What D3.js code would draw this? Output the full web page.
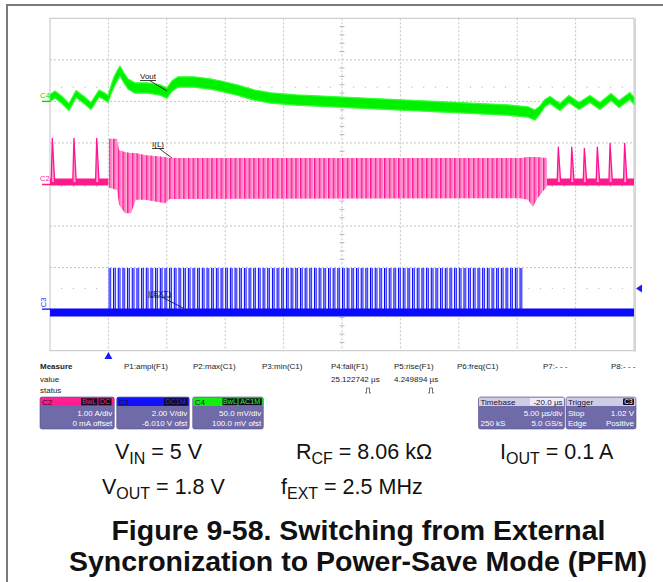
<!DOCTYPE html>
<html><head><meta charset="utf-8">
<script src="https://cdn.jsdelivr.net/npm/d3@7"></script>
<style>body{margin:0;background:#fff}svg{display:block;font-family:"Liberation Sans",Arial,sans-serif}</style>
</head><body><svg id="c" width="663" height="582"></svg>
<script>
// ---------------- DATA ----------------
// time axis: 10 div x 5 us
const timeDomain = [0, 50];
const triggerTime = 5.0;
const gridTimes = [5, 10, 15, 20, 25, 30, 35, 40, 45];
const gridDivs = [-3, -2, -1, 0, 1, 2, 3];

// C4 : Vout (mV, AC coupled, 50 mV/div) - upper / lower edge of the trace
const voutTime = [0.00,0.43,1.03,1.63,2.23,2.91,3.51,4.20,4.62,4.97,5.22,5.48,5.74,5.99,6.34,6.68,7.28,8.39,9.42,10.02,10.45,10.96,12.33,13.70,14.55,16.01,17.47,18.92,21.06,24.66,28.25,31.93,35.53,39.13,40.92,41.52,41.95,42.38,42.81,43.66,44.43,45.29,46.23,47.09,48.03,48.72,49.66,50.00];
const voutHigh = [8.3,12.5,5.9,-2.5,13.1,5.9,-1.3,13.7,10.7,7.1,18.5,29.4,36.6,42.6,34.2,27.0,22.3,22.3,19.9,16.3,24.8,29.6,29.6,27.2,24.8,19.9,13.9,10.3,7.9,5.5,3.1,0.7,-1.7,-4.1,-6.5,-10.3,-5.5,2.3,5.9,-2.5,7.1,-1.3,7.1,-1.3,9.5,1.1,10.7,4.7];
const voutLow  = [-0.1,4.1,-2.5,-11.0,4.7,-2.5,-9.7,5.3,2.3,-1.3,8.9,17.3,24.5,30.6,22.1,14.9,9.9,9.9,7.5,3.9,12.3,17.1,17.1,14.7,12.3,7.5,1.5,-2.1,-4.5,-6.9,-9.3,-11.8,-14.2,-16.6,-19.0,-22.4,-15.2,-6.1,-2.5,-11.0,-1.3,-9.7,-1.3,-9.7,1.1,-7.3,2.3,-3.7];

// C2 : I(L) (A, 1 A/div) - PFM pulses (time, peak)
const ilPulseTime = [0.20, 2.05, 4.00, 43.52, 44.67, 45.75, 46.86, 47.95, 49.20];
const ilPulsePeak = [1.11, 1.11, 1.11, 0.90, 0.90, 0.87, 0.90, 0.99, 0.99];
const ilBaseline = 0.06;
// C2 : I(L) forced-PWM envelope
const ilPwmTime = [5.05, 5.74, 5.91, 6.42, 6.93, 7.36, 8.13, 9.85, 10.27, 40.24, 40.92, 41.35, 41.70, 42.55];
const ilPwmHigh = [1.10, 1.10, 0.83, 0.78, 0.76, 0.76, 0.71, 0.66, 0.64, 0.64, 0.66, 0.66, 0.66, 0.64];
const ilPwmLow  = [-0.08,-0.13,-0.49,-0.69,-0.69,-0.37,-0.37,-0.45,-0.35,-0.33,-0.37,-0.54,-0.35,-0.04];
const ilSwitchPeriod = 0.4;

// C3 : external clock (V, 2 V/div)
const extStart = 5.0, extStop = 40.5;
const extPeriod = 0.4;      // 2.5 MHz
const extHigh = 1.98, extLow = -0.16;

// bottom captions / readouts
const measureLabels = ["P1:ampl(F1)","P2:max(C1)","P3:min(C1)","P4:fall(F1)","P5:rise(F1)","P6:freq(C1)","P7:- - -","P8:- - -"];
const measureValues = ["","","","25.122742 \u00b5s","4.249894 \u00b5s","","",""];
const measureStatus = [false,false,false,true,true,false,false,false];

// ---------------- DRAWING ----------------
const svg = d3.select("#c");
svg.append("rect").attr("width",663).attr("height",582).attr("fill","#fff");
svg.append("path").attr("d","M7,582V5H663").attr("fill","none").attr("stroke","#7a7a7a").attr("stroke-width",2);

const X0=50, X1=634, Y0=18.3, Y1=350.7;
const x = d3.scaleLinear().domain(timeDomain).range([X0,X1]);
const yDiv = d3.scaleLinear().domain([-4,4]).range([Y1,Y0]);
const yC2 = d3.scaleLinear().domain([-4,4]).range([Y1,Y0]);       // A
const yC4 = d3.scaleLinear().domain([-300,100]).range([Y1,Y0]);   // mV
const yC3 = d3.scaleLinear().domain([-2,14]).range([Y1,Y0]);      // V

const defs = svg.append("defs");
const g = svg.append("g");

// grid
g.selectAll(".gv").data(gridTimes).enter().append("line")
  .attr("x1",d=>x(d)).attr("x2",d=>x(d)).attr("y1",Y0).attr("y2",Y1)
  .attr("stroke","#b4b4b4").attr("stroke-width",0.8).attr("stroke-dasharray","2,2");
g.selectAll(".gh").data(gridDivs).enter().append("line")
  .attr("y1",d=>yDiv(d)).attr("y2",d=>yDiv(d)).attr("x1",X0).attr("x2",X1)
  .attr("stroke","#b4b4b4").attr("stroke-width",0.8).attr("stroke-dasharray","2,2");
// center ticks
const vt = d3.range(-4,4.01,0.2).filter(v=>Math.abs(v-Math.round(v))>0.01);
g.selectAll(".vt").data(vt).enter().append("line")
  .attr("x1",x(25)-2.5).attr("x2",x(25)+2.5).attr("y1",d=>yDiv(d)).attr("y2",d=>yDiv(d))
  .attr("stroke","#a8a8a8").attr("stroke-width",0.8);
const ht = d3.range(1,50,1).filter(v=>v%5!==0);
g.selectAll(".ht").data(ht).enter().append("line")
  .attr("x1",d=>x(d)).attr("x2",d=>x(d)).attr("y1",yDiv(0)-2.5).attr("y2",yDiv(0)+2.5)
  .attr("stroke","#a8a8a8").attr("stroke-width",0.8);
// dotted level rows
[yC4(17), yC3(1.0)].forEach(yy=>{
  g.selectAll(null).data(ht).enter().append("rect")
   .attr("x",d=>x(d)-0.5).attr("y",yy-0.5).attr("width",1).attr("height",1).attr("fill","#aaa");
});
g.append("rect").attr("x",X0).attr("y",Y0).attr("width",X1-X0).attr("height",Y1-Y0)
  .attr("fill","none").attr("stroke","#c4c4c4").attr("stroke-width",1);
g.append("line").attr("x1",X1+1).attr("x2",X1+1).attr("y1",Y0).attr("y2",Y1+1).attr("stroke","#d6d6d6").attr("stroke-width",2);

// ---- C4 green trace
const vout = voutTime.map((t,i)=>({t,hi:voutHigh[i],lo:voutLow[i]}));
g.append("path").datum(vout)
  .attr("d",d3.area().x(d=>x(d.t)).y0(d=>yC4(d.lo)).y1(d=>yC4(d.hi)))
  .attr("fill","#00f000").attr("stroke","#33ff33").attr("stroke-width",1.2).attr("stroke-linejoin","round");

// ---- C2 pink trace
const pw = x(ilSwitchPeriod)-x(0);
const pp = defs.append("pattern").attr("id","pinkPat").attr("patternUnits","userSpaceOnUse")
  .attr("width",pw).attr("height",400).attr("patternTransform",`translate(${x(triggerTime)},0)`);
pp.append("rect").attr("width",pw).attr("height",400).attr("fill","#ffb3dc");
pp.append("rect").attr("x",0).attr("width",1.5).attr("height",400).attr("fill","#ff1493");
pp.append("rect").attr("x",pw/2).attr("width",0.9).attr("height",400).attr("fill","#ff5ab4");
// PFM baseline band
[[0,triggerTime],[ilPwmTime[ilPwmTime.length-1],50]].forEach(seg=>{
  g.append("line").attr("x1",x(seg[0])).attr("x2",x(seg[1])).attr("y1",yC2(ilBaseline)).attr("y2",yC2(ilBaseline))
   .attr("stroke","#ff1a8c").attr("stroke-width",7);
});
// PFM pulses
const rise=0.10, fall=0.20;
ilPulseTime.forEach((t,i)=>{
  const pts=[[t-rise,ilBaseline],[t,ilPulsePeak[i]],[t+fall,ilBaseline]];
  g.append("path").attr("d",d3.line().x(d=>x(d[0])).y(d=>yC2(d[1]))(pts))
   .attr("fill","#ff9ccf").attr("stroke","#ff1493").attr("stroke-width",1.3).attr("stroke-linejoin","round");
});
// forced PWM region
const ilPwm = ilPwmTime.map((t,i)=>({t,hi:ilPwmHigh[i],lo:ilPwmLow[i]}));
g.append("path").datum(ilPwm)
  .attr("d",d3.area().x(d=>x(d.t)).y0(d=>yC2(d.lo)).y1(d=>yC2(d.hi)))
  .attr("fill","url(#pinkPat)");

// ---- C3 blue trace
const bw = x(extPeriod)-x(0);
const bp = defs.append("pattern").attr("id","bluePat").attr("patternUnits","userSpaceOnUse")
  .attr("width",bw).attr("height",400).attr("patternTransform",`translate(${x(extStart)},0)`);
bp.append("rect").attr("width",bw).attr("height",400).attr("fill","#f4f4ff");
bp.append("rect").attr("width",bw/2).attr("height",400).attr("fill","#c4c4ff");
bp.append("rect").attr("x",0).attr("width",1.1).attr("height",400).attr("fill","#0000ff");
bp.append("rect").attr("x",bw/2-0.5).attr("width",0.9).attr("height",400).attr("fill","#2020ff");
g.append("rect").attr("x",x(extStart)).attr("width",x(extStop)-x(extStart))
  .attr("y",yC3(extHigh)).attr("height",yC3(extLow)-yC3(extHigh)).attr("fill","url(#bluePat)");
g.append("line").attr("x1",x(0)).attr("x2",x(50)).attr("y1",yC3(extLow)).attr("y2",yC3(extLow))
  .attr("stroke","#0a0aff").attr("stroke-width",8);

// channel markers
const chLab = [{t:"C4",c:"#00e000",v:yC4(0)},{t:"C2",c:"#ff1a8c",v:yC2(0)},{t:"C3",c:"#2a2aff",v:yC3(0)}];
chLab.forEach((d,i)=>{
  g.append("line").attr("x1",42).attr("x2",50).attr("y1",d.v).attr("y2",d.v).attr("stroke",d.c).attr("stroke-width",1.5);
  if(i<2) g.append("text").attr("x",40).attr("y",d.v-3.5).attr("font-size",7.5).attr("fill",d.c).text(d.t);
  else g.append("text").attr("transform",`translate(46,${d.v-2}) rotate(-90)`).attr("font-size",7.5).attr("fill",d.c).text(d.t);
});
// trigger markers
g.append("path").attr("d",`M${x(triggerTime)},352 l-4,7 h8 z`).attr("fill","#1a1aff");
g.append("path").attr("d",`M${X1+2},${yC3(1.0)} l6,-4 v8 z`).attr("fill","#1a1aff");

// annotations
function note(txt,tx,ty,ax,ay){
  const t=g.append("text").attr("x",tx).attr("y",ty).attr("font-size",8).attr("fill","#111").text(txt);
  const w=t.node().getComputedTextLength();
  g.append("line").attr("x1",tx).attr("x2",tx+w).attr("y1",ty+1.5).attr("y2",ty+1.5).attr("stroke","#111").attr("stroke-width",0.8);
  g.append("line").attr("x1",tx+w*0.6).attr("y1",ty+1.5).attr("x2",ax).attr("y2",ay).attr("stroke","#111").attr("stroke-width",0.8);
}
note("Vout",140,79,167,91);
note("I(L)",152,147,172,158);
note("I(EXT)",148,295.5,183,308);

// ---- measurement table
const mx=[124,193,262,331,394,457,543,611];
const mt = svg.append("g").attr("font-size",8).attr("fill","#222");
mt.append("text").attr("x",40).attr("y",369).attr("font-weight","bold").text("Measure");
mt.append("text").attr("x",40).attr("y",381.5).text("value");
mt.append("text").attr("x",40).attr("y",393).text("status");
measureLabels.forEach((l,i)=>{
  mt.append("text").attr("x",mx[i]).attr("y",369).text(l);
  if(measureValues[i]) mt.append("text").attr("x",mx[i]).attr("y",381.5).text(measureValues[i]);
  if(measureStatus[i]){
    const sx=mx[i]+34;
    mt.append("path").attr("d",`M${sx},393 h1.5 v-5 h3 v5 h1.5`).attr("fill","none").attr("stroke","#333").attr("stroke-width",0.7);
  }
});

// ---- channel boxes
const boxes = [
  {x0:40,x1:114.3,col:"#ff1f8f",name:"C2",badges:[["BwL",81,97.5],["DC",98.5,111.5]],l1:"1.00 A/div",l2:"0 mA offset",bc:"#ff1f8f"},
  {x0:116.7,x1:189.3,col:"#1010ff",name:"C3",badges:[["DC1M",164,187.5]],l1:"2.00 V/div",l2:"-6.010 V ofst",bc:"#2a2aff"},
  {x0:192.7,x1:263.3,col:"#10f010",name:"C4",badges:[["BwL",222.5,237.5],["AC1M",238.5,261.8]],l1:"50.0 mV/div",l2:"100.0 mV ofst",bc:"#22ff22"}
];
const bx = svg.append("g").attr("font-size",8);
function body(x0,x1){
  bx.append("rect").attr("x",x0).attr("y",397).attr("width",x1-x0).attr("height",32).attr("rx",2)
    .attr("fill","#6f6aa8").attr("stroke","#55508c").attr("stroke-width",0.6);
}
boxes.forEach(b=>{
  body(b.x0,b.x1);
  bx.append("rect").attr("x",b.x0+0.5).attr("y",397.5).attr("width",b.x1-b.x0-1).attr("height",8.5).attr("fill",b.col);
  bx.append("text").attr("x",b.x0+2).attr("y",404.6).attr("fill","#1a1030").text(b.name);
  b.badges.forEach(([t,a,c])=>{
    bx.append("rect").attr("x",a).attr("y",398.3).attr("width",c-a).attr("height",7).attr("fill","#140a20");
    bx.append("text").attr("x",(a+c)/2).attr("y",404.4).attr("text-anchor","middle").attr("font-size",7.2).attr("fill",b.bc).text(t);
  });
  bx.append("text").attr("x",b.x1-2).attr("y",415.5).attr("text-anchor","end").attr("fill","#fff").text(b.l1);
  bx.append("text").attr("x",b.x1-2).attr("y",426).attr("text-anchor","end").attr("fill","#fff").text(b.l2);
});
// timebase / trigger
[[478.5,564.5],[566,636]].forEach(([a,c])=>{
  body(a,c);
  bx.append("rect").attr("x",a+0.5).attr("y",397.5).attr("width",c-a-1).attr("height",8.5).attr("fill","#cfcde6");
});
bx.append("text").attr("x",480.5).attr("y",404.6).attr("fill","#1a1030").text("Timebase");
bx.append("rect").attr("x",530).attr("y",398).attr("width",33.5).attr("height",7.5).attr("fill","#ecebf8");
bx.append("text").attr("x",562.5).attr("y",404.6).attr("text-anchor","end").attr("fill","#1a1030").text("-20.0 \u00b5s");
bx.append("text").attr("x",562.5).attr("y",415.5).attr("text-anchor","end").attr("fill","#fff").text("5.00 \u00b5s/div");
bx.append("text").attr("x",480.5).attr("y",426).attr("fill","#fff").text("250 kS");
bx.append("text").attr("x",562.5).attr("y",426).attr("text-anchor","end").attr("fill","#fff").text("5.0 GS/s");
bx.append("text").attr("x",568).attr("y",404.6).attr("fill","#1a1030").text("Trigger");
bx.append("rect").attr("x",623).attr("y",398.5).attr("width",11).attr("height",6.5).attr("rx",1).attr("fill","#140a20");
bx.append("text").attr("x",628.5).attr("y",404.2).attr("text-anchor","middle").attr("font-size",6.5).attr("fill","#fff").text("C3");
bx.append("text").attr("x",568).attr("y",415.5).attr("fill","#fff").text("Stop");
bx.append("text").attr("x",634).attr("y",415.5).attr("text-anchor","end").attr("fill","#fff").text("1.02 V");
bx.append("text").attr("x",568).attr("y",426).attr("fill","#fff").text("Edge");
bx.append("text").attr("x",634).attr("y",426).attr("text-anchor","end").attr("fill","#fff").text("Positive");

// ---- captions
const cap = svg.append("g").attr("font-size",21.5).attr("fill","#111");
function sub(xp,yp,main,s,rest){
  const t=cap.append("text").attr("x",xp).attr("y",yp);
  t.append("tspan").text(main);
  t.append("tspan").attr("font-size",16).attr("dy",4.5).text(s);
  t.append("tspan").attr("dy",-4.5).text(rest);
}
sub(115,459,"V","IN"," = 5 V");
sub(296,459,"R","CF"," = 8.06 k\u03a9");
sub(500,459,"I","OUT"," = 0.1 A");
sub(102,494,"V","OUT"," = 1.8 V");
sub(281,494,"f","EXT"," = 2.5 MHz");
const ttl = svg.append("g").attr("font-size",28.5).attr("font-weight","bold").attr("fill","#111").attr("text-anchor","middle");
ttl.append("text").attr("x",358.5).attr("y",540).text("Figure 9-58. Switching from External");
ttl.append("text").attr("x",358).attr("y",571).text("Syncronization to Power-Save Mode (PFM)");
</script></body></html>
